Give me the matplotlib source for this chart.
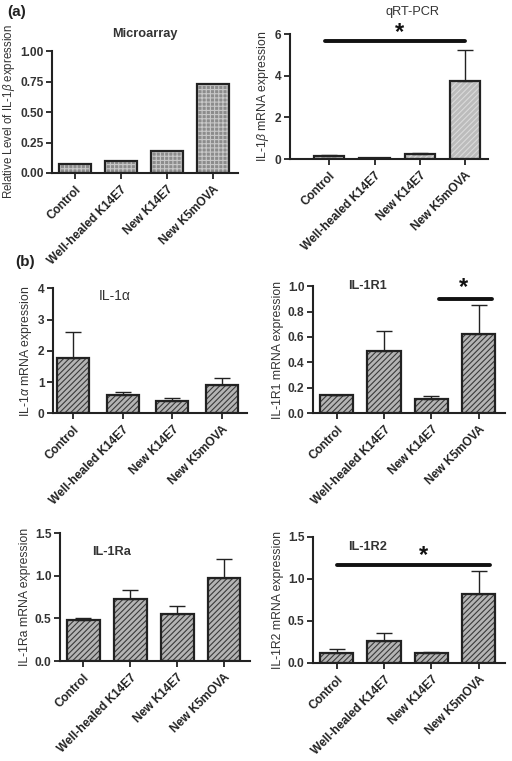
import numpy as np
import matplotlib
matplotlib.use('Agg')
import matplotlib.pyplot as plt

plt.rcParams['font.family'] = ['Liberation Sans', 'DejaVu Sans']
plt.rcParams['mathtext.fontset'] = 'custom'
plt.rcParams['mathtext.rm'] = 'Liberation Sans'
plt.rcParams['mathtext.it'] = 'Liberation Sans:italic'
plt.rcParams['hatch.linewidth'] = 0.8

groups = ['Control', 'Well-healed K14E7', 'New K14E7', 'New K5mOVA']

# values (mean, top of error bar)
micro_vals = [0.07, 0.10, 0.18, 0.73]
qpcr_vals = [0.15, 0.05, 0.25, 3.75]
qpcr_top = [0.20, 0.06, 0.27, 5.25]
il1a_vals = [1.78, 0.58, 0.40, 0.90]
il1a_top = [2.60, 0.68, 0.50, 1.12]
il1r1_vals = [0.145, 0.49, 0.115, 0.625]
il1r1_top = [0.145, 0.645, 0.135, 0.85]
il1ra_vals = [0.48, 0.73, 0.55, 0.97]
il1ra_top = [0.50, 0.83, 0.65, 1.20]
il1r2_vals = [0.12, 0.26, 0.115, 0.82]
il1r2_top = [0.165, 0.36, 0.13, 1.09]

fig = plt.figure(figsize=(5.12, 7.61), dpi=100)


def panel(rect, vals, top, ylim, yticks, yfmt, ylabel, face, hatch, hcol,
          xlim=(-0.5, 3.55), width=0.7, ylsize=8.8, lpad=3):
    ax = fig.add_axes(rect)
    x = np.arange(len(vals))
    ax.bar(x, vals, width, color=face, edgecolor=hcol, hatch=hatch, lw=0)
    ax.bar(x, vals, width, fill=False, edgecolor='#222222', lw=1.6)
    if top is not None:
        err = np.array(top) - np.array(vals)
        ax.errorbar(x, vals, yerr=[np.zeros(len(vals)), err], fmt='none',
                    ecolor='#222222', elinewidth=1.0, capsize=6, capthick=1.0)
    ax.set_xlim(*xlim)
    ax.set_ylim(*ylim)
    ax.set_yticks(yticks)
    ax.set_yticklabels([yfmt.format(v) for v in yticks])
    ax.set_xticks(x)
    ax.set_xticklabels(groups, rotation=45, ha='right', rotation_mode='anchor',
                       fontsize=8.6, fontweight='bold', color='#333333')
    for s in ['top', 'right']:
        ax.spines[s].set_visible(False)
    for s in ['left', 'bottom']:
        ax.spines[s].set_linewidth(1.5)
        ax.spines[s].set_color('#222222')
    ax.tick_params(axis='both', width=1.3, length=4, colors='#222222')
    ax.tick_params(axis='y', labelsize=8.6, labelcolor='#333333', pad=2)
    for t in ax.get_yticklabels():
        t.set_fontweight('bold')
    ax.set_ylabel(ylabel, fontsize=ylsize, color='#333333', labelpad=lpad)
    return ax


def sig(ax, x0, x1, y, xs, ys):
    ax.plot([x0, x1], [y, y], color='#111111', lw=2.8, solid_capstyle='round',
            clip_on=False)
    ax.text(xs, ys, '*', ha='center', va='center', fontsize=17,
            fontweight='bold', color='#111111', clip_on=False)


# (a) Microarray
ax1 = panel([0.1016, 0.7727, 0.363, 0.160], micro_vals, None, (0, 1.0),
            [0, 0.25, 0.5, 0.75, 1.0], '{:.2f}',
            'Relative Level of IL-1$\\it{\\beta}$ expression',
            '#8c8c8c', '++++', '#c8c8c8', ylsize=8.3, lpad=2)
fig.text(0.283, 0.955, 'Microarray', ha='center', va='center', fontsize=9.2,
         fontweight='bold', color='#333333')

# (a) qRT-PCR
ax2 = panel([0.566, 0.791, 0.387, 0.164], qpcr_vals, qpcr_top, (0, 6),
            [0, 2, 4, 6], '{:.0f}', 'IL-1$\\it{\\beta}$ mRNA expression',
            '#bcbcbc', '//////', '#dadada', xlim=(-0.87, 3.5), width=0.67)
fig.text(0.806, 0.984, 'qRT-PCR', ha='center', va='center', fontsize=9.2,
         color='#333333')
sig(ax2, -0.1, 3.0, 5.66, 1.55, 6.1)

# (b) IL-1 alpha
ax3 = panel([0.1035, 0.457, 0.379, 0.164], il1a_vals, il1a_top, (0, 4),
            [0, 1, 2, 3, 4], '{:.0f}', 'IL-1$\\it{\\alpha}$ mRNA expression',
            '#b4b4b4', '//////', '#3a3a3a', xlim=(-0.4, 3.5), width=0.64)
ax3.text(0.85, 3.75, 'IL-1α', ha='center', va='center', fontsize=10,
         color='#333333')

# (b) IL-1R1
ax4 = panel([0.611, 0.457, 0.375, 0.167], il1r1_vals, il1r1_top, (0, 1.0),
            [0, 0.2, 0.4, 0.6, 0.8, 1.0], '{:.1f}', 'IL-1R1 mRNA expression',
            '#b4b4b4', '//////', '#3a3a3a')
ax4.text(0.65, 1.0, 'IL-1R1', ha='center', va='center', fontsize=9.2,
         fontweight='bold', color='#333333')
sig(ax4, 2.17, 3.28, 0.895, 2.68, 0.99)

# (b) IL-1Ra
ax5 = panel([0.117, 0.1314, 0.371, 0.168], il1ra_vals, il1ra_top, (0, 1.5),
            [0, 0.5, 1.0, 1.5], '{:.1f}', 'IL-1Ra mRNA expression',
            '#b4b4b4', '//////', '#3a3a3a')
ax5.text(0.6, 1.28, 'IL-1Ra', ha='center', va='center', fontsize=9.2,
         fontweight='bold', color='#333333')

# (b) IL-1R2
ax6 = panel([0.611, 0.1288, 0.375, 0.1656], il1r2_vals, il1r2_top, (0, 1.5),
            [0, 0.5, 1.0, 1.5], '{:.1f}', 'IL-1R2 mRNA expression',
            '#b4b4b4', '//////', '#3a3a3a')
ax6.text(0.65, 1.38, 'IL-1R2', ha='center', va='center', fontsize=9.2,
         fontweight='bold', color='#333333')
sig(ax6, 0.02, 3.23, 1.165, 1.84, 1.28)

fig.text(0.015, 0.984, '(a)', ha='left', va='center', fontsize=11,
         fontweight='bold', color='#222222')
fig.text(0.03, 0.656, '(b)', ha='left', va='center', fontsize=11,
         fontweight='bold', color='#222222')

fig.savefig('out.png', dpi=100)
